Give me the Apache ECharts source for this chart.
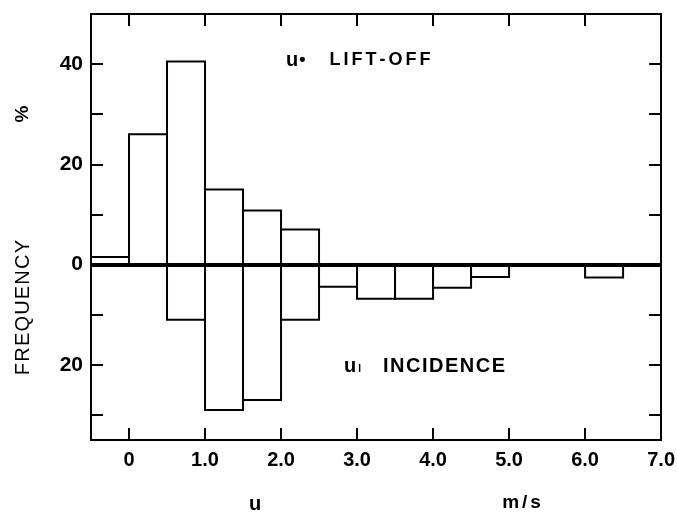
<!DOCTYPE html>
<html>
<head>
<meta charset="utf-8">
<script src="https://cdn.jsdelivr.net/npm/echarts@6/dist/echarts.min.js"></script>
<style>
  html, body { margin: 0; padding: 0; background: #fff; }
  #chart { width: 678px; height: 516px; }
</style>
</head>
<body>
<div id="chart"></div>
<script>
// histogram bins (left edges, m/s) and bin width
const binStarts = [-0.5, 0, 0.5, 1.0, 1.5, 2.0, 2.5, 3.0, 3.5, 4.0, 4.5, 5.0, 5.5, 6.0, 6.5];
const binWidth = 0.5;
// frequency in %
const liftOff = [1.5, 26, 40.5, 15, 10.8, 7, 0, 0, 0, 0, 0, 0, 0, 0, 0];
const incidence = [0, 0, 11, 29, 27, 11, 4.4, 6.8, 6.8, 4.6, 2.5, 0, 0, 2.6, 0];
// axis ticks and labels
const xLabelValues = [0, 1, 2, 3, 4, 5, 6, 7];
const xTickValues = [0, 1, 2, 3, 4, 5, 6];
const yLabelValues = [-20, 0, 20, 40];
const yTickValues = [-30, -20, -10, 0, 10, 20, 30, 40];

const FONT = 'Liberation Sans';

const chart = echarts.init(document.getElementById('chart'));

const liftData = binStarts.map((x, i) => [x, x + binWidth, liftOff[i]]);
const incData = binStarts.map((x, i) => [x, x + binWidth, -incidence[i]]);

const renderBin = (params, api) => {
    const v = api.value(2);
    if (v === 0) return null;
    const p0 = api.coord([api.value(0), 0]);
    const p1 = api.coord([api.value(1), v]);
    return {
        type: 'rect',
        shape: {
            x: p0[0],
            y: Math.min(p0[1], p1[1]),
            width: p1[0] - p0[0],
            height: Math.abs(p1[1] - p0[1])
        },
        style: { fill: '#fff', stroke: '#000', lineWidth: 2 }
    };
};

// letter-spaced text: one rich token per character
const spaced = (str, key) => str.split('').map(c => '{' + key + '|' + c + '}').join('');

const axisLine = { show: true, onZero: false, lineStyle: { color: '#000', width: 2 } };
const tick = (vals) => ({
    show: true, inside: true, length: 12, customValues: vals,
    lineStyle: { color: '#000', width: 2 }
});

const option = {
    animation: false,
    grid: { left: 91, right: 16, top: 14, bottom: 76 },
    xAxis: [
        {
            type: 'value', min: -0.5, max: 7, position: 'bottom',
            axisLine: axisLine,
            axisTick: tick(xTickValues),
            splitLine: { show: false },
            axisLabel: {
                customValues: xLabelValues, margin: 10,
                color: '#000', fontFamily: FONT, fontWeight: 'bold', fontSize: 20,
                formatter: v => v === 0 ? '0' : v.toFixed(1)
            }
        },
        {
            type: 'value', min: -0.5, max: 7, position: 'top',
            axisLine: axisLine,
            axisTick: tick(xTickValues),
            splitLine: { show: false },
            axisLabel: { show: false }
        }
    ],
    yAxis: [
        {
            type: 'value', min: -35, max: 50, position: 'left',
            axisLine: axisLine,
            axisTick: tick(yTickValues),
            splitLine: { show: false },
            axisLabel: {
                customValues: yLabelValues, margin: 8,
                color: '#000', fontFamily: FONT, fontWeight: 'bold', fontSize: 21,
                formatter: v => String(Math.abs(v))
            }
        },
        {
            type: 'value', min: -35, max: 50, position: 'right',
            axisLine: axisLine,
            axisTick: tick(yTickValues),
            splitLine: { show: false },
            axisLabel: { show: false }
        }
    ],
    graphic: [
        {
            type: 'text', x: 23, y: 114, rotation: Math.PI / 2,
            style: { text: '%', font: 'bold 19px ' + FONT, fill: '#000', align: 'center', verticalAlign: 'middle' }
        },
        {
            type: 'text', x: 23, y: 307, rotation: Math.PI / 2,
            style: {
                text: spaced('FREQUENCY', 'c'),
                rich: { c: { font: '20px ' + FONT, fill: '#000', padding: [0, 1.2, 0, 0] } },
                align: 'center', verticalAlign: 'middle'
            }
        },
        {
            type: 'text', x: 255, y: 504,
            style: { text: 'u', font: 'bold 20px ' + FONT, fill: '#000', align: 'center', verticalAlign: 'middle' }
        },
        {
            type: 'text', x: 523, y: 503,
            style: {
                text: spaced('m/s', 'c'),
                rich: { c: { font: 'bold 19px ' + FONT, fill: '#000', padding: [0, 3, 0, 0] } },
                align: 'center', verticalAlign: 'middle'
            }
        },
        {
            type: 'text', x: 286, y: 60,
            style: {
                text: '{u|u}{s|•}{g| }' + spaced('LIFT-OFF', 'c'),
                rich: {
                    u: { font: 'bold 20px ' + FONT, fill: '#000' },
                    s: { font: 'bold 18px ' + FONT, fill: '#000', padding: [0, 0, 0, 1] },
                    g: { font: '18px ' + FONT, width: 24 },
                    c: { font: 'bold 18px ' + FONT, fill: '#000', padding: [0, 3, 0, 0] }
                },
                verticalAlign: 'middle'
            }
        },
        {
            type: 'text', x: 344, y: 366,
            style: {
                text: '{u|u}{s|I}{g| }' + spaced('INCIDENCE', 'c'),
                rich: {
                    u: { font: 'bold 20px ' + FONT, fill: '#000' },
                    s: { font: 'bold 10px ' + FONT, fill: '#000', padding: [7, 0, 0, 2] },
                    g: { font: '18px ' + FONT, width: 22 },
                    c: { font: 'bold 20px ' + FONT, fill: '#000', padding: [0, 1.5, 0, 0] }
                },
                verticalAlign: 'middle'
            }
        }
    ],
    series: [
        {
            name: 'lift-off', type: 'custom', xAxisIndex: 0, yAxisIndex: 0,
            renderItem: renderBin, data: liftData, z: 2
        },
        {
            name: 'incidence', type: 'custom', xAxisIndex: 0, yAxisIndex: 0,
            renderItem: renderBin, data: incData, z: 2,
            markLine: {
                silent: true, symbol: 'none', label: { show: false },
                lineStyle: { color: '#000', width: 4, type: 'solid' },
                data: [{ yAxis: 0 }],
                z: 5
            }
        }
    ]
};

chart.setOption(option);
</script>
</body>
</html>
